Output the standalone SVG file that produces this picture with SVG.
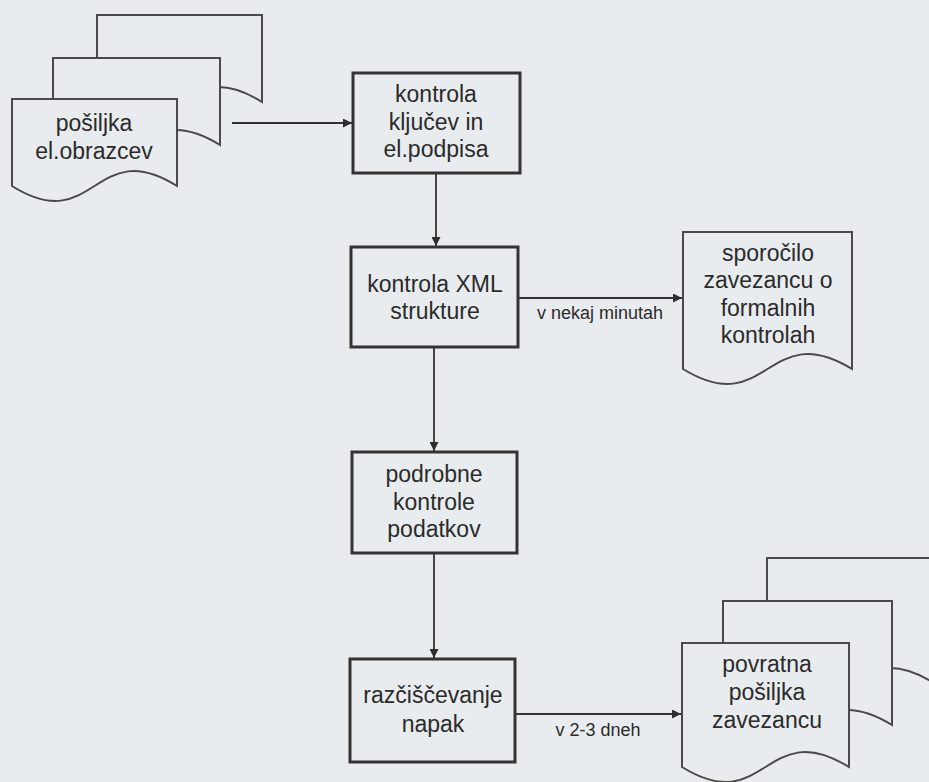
<svg xmlns="http://www.w3.org/2000/svg" width="929" height="782" viewBox="0 0 929 782">
<defs>
<marker id="ah" viewBox="0 0 10 10" refX="10" refY="5" markerWidth="11" markerHeight="9" markerUnits="userSpaceOnUse" orient="auto">
<path d="M0,0 L10,5 L0,10 z" fill="#2e2e2e"/>
</marker>
<style>
.bg{fill:#e8ecee}
.box{fill:#e8ecee;stroke:#333;stroke-width:3}
.doc{fill:#e8ecee;stroke:#4a4a4a;stroke-width:2;stroke-linejoin:miter}
.t{font-family:"Liberation Sans",Arial,sans-serif;font-size:23px;fill:#2b2b2b;text-anchor:middle}
.lbl{font-family:"Liberation Sans",Arial,sans-serif;font-size:18px;fill:#2b2b2b;text-anchor:middle}
.c{stroke:#333;stroke-width:1.8;fill:none;marker-end:url(#ah)}
</style>
</defs>
<rect class="bg" x="0" y="0" width="929" height="782"/>

<g id="posiljka">
<path class="doc" d="M97,102 V15 H262 V102 C179,50 180,154 97,102 Z"/>
<path class="doc" d="M53,145 V58 H220 V145 C136,93 137,197 53,145 Z"/>
<path class="doc" d="M12,186 V99 H177 V186 C94,134 95,238 12,186 Z"/>
<text class="t" x="94" y="131">pošiljka</text>
<text class="t" x="94" y="159">el.obrazcev</text>
</g>

<g id="kontrola-kljucev">
<rect class="box" x="353" y="73" width="167" height="100"/>
<text class="t" x="436" y="102">kontrola</text>
<text class="t" x="436" y="130">ključev in</text>
<text class="t" x="436" y="157">el.podpisa</text>
</g>

<g id="kontrola-xml">
<rect class="box" x="351" y="247" width="167" height="100"/>
<text class="t" x="435" y="292">kontrola XML</text>
<text class="t" x="435" y="319">strukture</text>
</g>

<g id="sporocilo">
<path class="doc" d="M683,369 V232 H852 V369 C767,317 768,421 683,369 Z"/>
<text class="t" x="768" y="261">sporočilo</text>
<text class="t" x="768" y="288">zavezancu o</text>
<text class="t" x="768" y="316">formalnih</text>
<text class="t" x="768" y="343">kontrolah</text>
</g>

<g id="podrobne-kontrole">
<rect class="box" x="352" y="452" width="165" height="101"/>
<text class="t" x="434" y="482">podrobne</text>
<text class="t" x="434" y="510">kontrole</text>
<text class="t" x="434" y="537">podatkov</text>
</g>

<g id="razciscevanje">
<rect class="box" x="350" y="659" width="165" height="103"/>
<text class="t" x="433" y="703">razčiščevanje</text>
<text class="t" x="433" y="732">napak</text>
</g>

<g id="povratna">
<path class="doc" d="M767,683 V558 H934 V683 C850,631 851,735 767,683 Z"/>
<path class="doc" d="M723,725 V601 H892 V725 C807,673 808,777 723,725 Z"/>
<path class="doc" d="M682,767 V643 H849 V767 C765,715 766,819 682,767 Z"/>
<text class="t" x="767" y="672">povratna</text>
<text class="t" x="767" y="700">pošiljka</text>
<text class="t" x="767" y="728">zavezancu</text>
</g>

<g id="connectors">
<line class="c" x1="232" y1="123" x2="352" y2="123"/>
<line class="c" x1="436" y1="174" x2="436" y2="246"/>
<line class="c" x1="519" y1="298" x2="682" y2="298"/>
<line class="c" x1="434" y1="348" x2="434" y2="451"/>
<line class="c" x1="434" y1="554" x2="434" y2="658"/>
<line class="c" x1="516" y1="714" x2="681" y2="714"/>
<text class="lbl" x="600" y="319">v nekaj minutah</text>
<text class="lbl" x="598" y="736">v 2-3 dneh</text>
</g>
</svg>
